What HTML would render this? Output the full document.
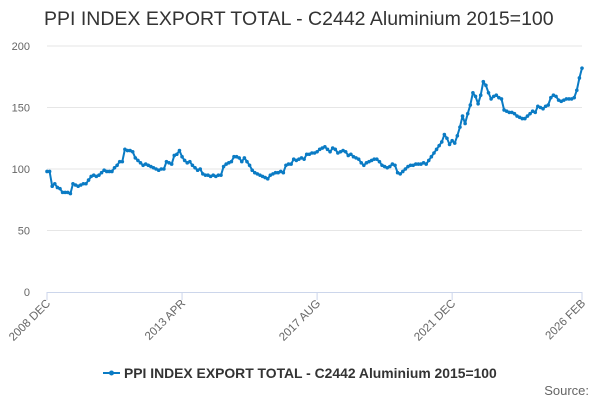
<!DOCTYPE html>
<html><head><meta charset="utf-8"><style>
body{margin:0;background:#fff;font-family:"Liberation Sans",sans-serif}
svg{display:block}
</style></head><body>
<svg width="600" height="400">
<text x="44" y="25" font-size="19.5" fill="#333">PPI INDEX EXPORT TOTAL - C2442 Aluminium 2015=100</text>
<g id="grid"></g>
<g id="yax"></g>
<g id="xax"></g>
<g id="series"></g>
<g>
<line x1="103" y1="373" x2="120" y2="373" stroke="#0a7bc4" stroke-width="2"/>
<circle cx="111.5" cy="373" r="2.5" fill="#0a7bc4"/>
<text x="124" y="378" font-size="13.9" font-weight="bold" fill="#333">PPI INDEX EXPORT TOTAL - C2442 Aluminium 2015=100</text>
</g>
<text x="589" y="395" font-size="13" fill="#666" text-anchor="end">Source:</text>
</svg>
<script>
const yTicks=[0,50,100,150,200];
const xTickIdx=[0,52,104,156,206];
const xTickLabels=["2008 DEC","2013 APR","2017 AUG","2021 DEC","2026 FEB"];
const values=[98,98,86,88,85,84,81,81,81,80,
88,87,86,87,88,88,91,94,95,94,
95,97,99,98,98,98,101,103,106,106,
116,115,115,114,109,107,105,103,104,103,
102,101,100,99,100,100,106,105,104,111,
112,115,110,107,105,106,103,101,99,100,
96,95,95,94,95,94,95,95,102,104,
105,106,110,110,109,106,109,106,103,99,
97,96,95,94,93,92,95,96,97,97,
98,97,103,104,104,108,107,108,109,108,
112,112,113,113,114,116,117,118,116,114,
117,116,113,114,115,114,111,112,110,109,
108,105,103,105,106,107,108,108,106,103,
102,101,102,104,103,97,96,98,100,102,
103,103,104,104,104,105,104,107,110,113,
116,119,122,128,125,120,123,121,127,134,
143,137,145,152,162,159,153,160,171,168,
162,157,159,160,158,157,148,147,146,146,
145,143,142,141,141,143,145,147,146,151,
150,149,151,152,158,160,159,156,155,156,
157,157,157,158,164,174,182];
const NS="http://www.w3.org/2000/svg";
const X0=47,X1=582,Y0=292,Y1=46,N=206;
function xs(i){return X0+(X1-X0)*i/N;}
function ys(v){return Y0-(Y0-Y1)*v/200;}
const grid=document.getElementById('grid'),yax=document.getElementById('yax'),xax=document.getElementById('xax'),ser=document.getElementById('series');
function mk(t,a,p){const e=document.createElementNS(NS,t);for(const k in a)e.setAttribute(k,a[k]);p.appendChild(e);return e;}
yTicks.forEach(v=>{
 if(v>0){const l=mk('line',{x1:X0,x2:X1,y1:ys(v),y2:ys(v),stroke:'#e6e6e6','stroke-width':1},grid);
 
 }
 const t=mk('text',{x:30,y:ys(v)+4,'font-size':11,fill:'#666','text-anchor':'end'},yax);
 
 
 t.textContent=v;
});
const ax=mk('line',{x1:X0,x2:X1,y1:Y0+0.5,y2:Y0+0.5,stroke:'#ccd6eb','stroke-width':1},xax);


xTickIdx.forEach((idx,k)=>{
 const x=xs(idx);
 const tk=mk('line',{x1:x,x2:x,y1:Y0,y2:Y0+8,stroke:'#ccd6eb'},xax);
 
 
 const t=mk('text',{x:x+4,y:Y0+12,'font-size':11.5,fill:'#666','text-anchor':'end',transform:`rotate(-45 ${x+4} ${Y0+12})`},xax);
 
 
 t.textContent=xTickLabels[k];
});
const pts=values.map((v,i)=>xs(i).toFixed(1)+','+ys(v).toFixed(1)).join(' ');
const pl=mk('polyline',{points:pts,fill:'none',stroke:'#0a7bc4','stroke-width':2,'stroke-linejoin':'round'},ser);


values.forEach((v,i)=>{
 const c=mk('circle',{cx:xs(i),cy:ys(v),r:1.8,fill:'#0a7bc4'},ser);
 
 
});
</script>
</body></html>
